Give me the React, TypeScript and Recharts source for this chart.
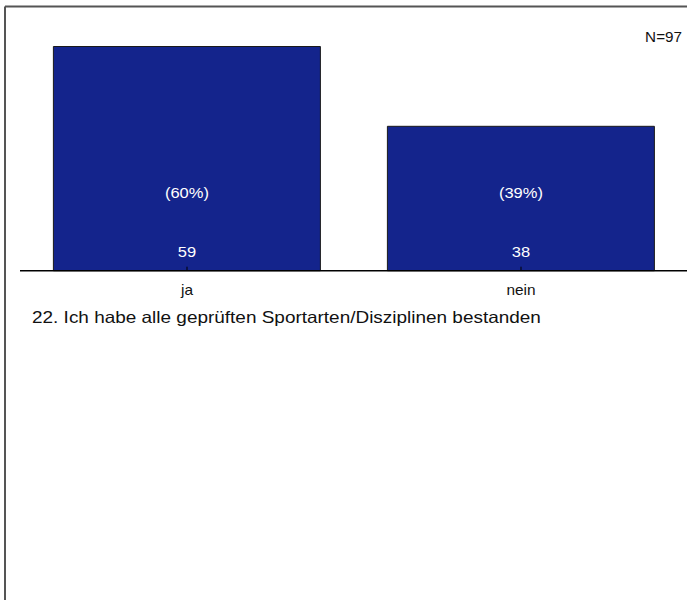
import { BarChart, Bar, XAxis, YAxis } from "recharts";

const categories = ["ja", "nein"];
const counts = [59, 38];
const percents = [60, 39];
const total = 97;
const title = "22. Ich habe alle geprüften Sportarten/Disziplinen bestanden";

const data = categories.map((name, i) => ({
  name,
  count: counts[i],
  pct: percents[i],
}));

const FONT = "'Liberation Sans', Arial, sans-serif";

// the source renders its text horizontally stretched
function Stretch(props: any) {
  const { x, y, sx = 1.1, children, ...rest } = props;
  return (
    <text
      transform={`translate(${x},${y}) scale(${sx},1)`}
      x={0}
      y={0}
      fontFamily={FONT}
      {...rest}
    >
      {children}
    </text>
  );
}

function BarLabels(props: any) {
  const { x, width, y, height, index } = props;
  const cx = x + width / 2;
  const base = y + height;
  return (
    <g>
      <Stretch x={cx} y={base - 73} fontSize={15} fill="#fff" textAnchor="middle">
        ({percents[index]}%)
      </Stretch>
      <Stretch x={cx} y={base - 14} fontSize={15} fill="#fff" textAnchor="middle">
        {counts[index]}
      </Stretch>
    </g>
  );
}

function CategoryTick(props: any) {
  const { x, y, payload } = props;
  return (
    <g>
      <line x1={x} x2={x} y1={y - 4} y2={y} stroke="#000" strokeWidth={1} />
      <Stretch x={x} y={y + 24} fontSize={14} fill="#111" textAnchor="middle">
        {payload.value}
      </Stretch>
    </g>
  );
}

export default function App() {
  return (
    <div
      style={{
        position: "absolute",
        left: 0,
        top: 0,
        width: 687,
        height: 600,
        overflow: "hidden",
        background: "#fff",
      }}
    >
      <div style={{ position: "absolute", left: 0, top: 0 }}>
        <BarChart
          width={688}
          height={320}
          data={data}
          margin={{ top: 42.7, right: 0, left: 20, bottom: 9.3 }}
          barCategoryGap="10%"
        >
          <YAxis hide domain={[0, 60]} />
          <XAxis
            dataKey="name"
            height={40}
            tickSize={0}
            tickMargin={0}
            tickLine={false}
            axisLine={{ stroke: "#000", strokeWidth: 1.5 }}
            tick={<CategoryTick />}
          />
          <Bar
            dataKey="count"
            fill="#14248c"
            stroke="#1a1a1a"
            strokeWidth={1}
            isAnimationActive={false}
            label={<BarLabels />}
          />
        </BarChart>
      </div>
      <svg
        width={687}
        height={600}
        style={{ position: "absolute", left: 0, top: 0, pointerEvents: "none" }}
      >
        <line x1={5} y1={6.5} x2={687} y2={6.5} stroke="#555" strokeWidth={2} />
        <line x1={5} y1={6.5} x2={5} y2={600} stroke="#555" strokeWidth={2} />
        <Stretch x={682} y={41.7} sx={1.09} fontSize={14} fill="#111" textAnchor="end">
          N={total}
        </Stretch>
        <Stretch x={32} y={323.3} sx={1.149} fontSize={16.5} fill="#111">
          {title}
        </Stretch>
      </svg>
    </div>
  );
}
